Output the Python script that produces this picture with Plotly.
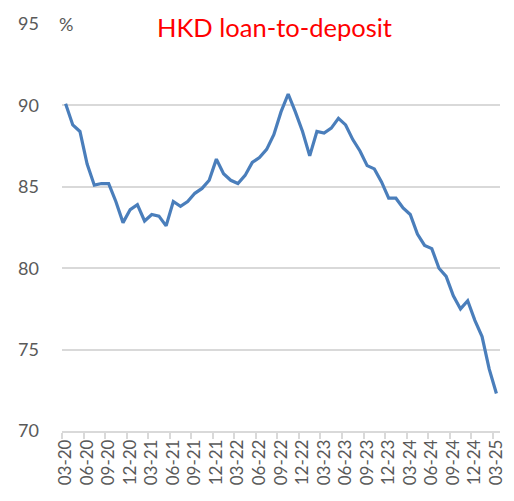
import plotly.graph_objects as go

months = ["03-20","04-20","05-20","06-20","07-20","08-20","09-20","10-20","11-20","12-20",
          "01-21","02-21","03-21","04-21","05-21","06-21","07-21","08-21","09-21","10-21","11-21","12-21",
          "01-22","02-22","03-22","04-22","05-22","06-22","07-22","08-22","09-22","10-22","11-22","12-22",
          "01-23","02-23","03-23","04-23","05-23","06-23","07-23","08-23","09-23","10-23","11-23","12-23",
          "01-24","02-24","03-24","04-24","05-24","06-24","07-24","08-24","09-24","10-24","11-24","12-24",
          "01-25","02-25","03-25"]

ratio = [90.1, 88.8, 88.4, 86.4, 85.1, 85.2, 85.2, 84.1, 82.8, 83.6,
         83.9, 82.9, 83.3, 83.2, 82.6, 84.1, 83.8, 84.1, 84.6, 84.9, 85.4, 86.7,
         85.8, 85.4, 85.2, 85.7, 86.5, 86.8, 87.3, 88.2, 89.6, 90.7, 89.6, 88.4,
         86.9, 88.4, 88.3, 88.6, 89.2, 88.8, 87.9, 87.2, 86.3, 86.1, 85.3, 84.3,
         84.3, 83.7, 83.3, 82.1, 81.4, 81.2, 80.0, 79.5, 78.3, 77.5, 78.0, 76.8,
         75.8, 73.8, 72.3]

y_ticks = [70, 75, 80, 85, 90, 95]
title_text = "HKD loan-to-deposit"
unit_text = "%"

fig = go.Figure()
fig.add_trace(go.Scatter(
    x=months, y=ratio, mode="lines",
    line=dict(color="#4a7ebb", width=3.2),
    hoverinfo="skip", showlegend=False,
))

# page body has an 8px default margin, so the figure is sized/offset to compensate
fig.update_layout(
    width=506, height=493,
    margin=dict(l=54, r=14, t=16, b=70, autoexpand=False),
    paper_bgcolor="white", plot_bgcolor="white",
    font=dict(family="Lato, Open Sans, sans-serif", color="#595959"),
    showlegend=False,
)

fig.update_xaxes(
    type="category",
    range=[-0.5, len(months) - 0.5],
    tickmode="linear", tick0=0, dtick=3,
    tickson="boundaries",
    ticks="outside", ticklen=6, tickcolor="#d9d9d9", tickwidth=1.5,
    showline=True, linecolor="#d9d9d9", linewidth=1.5,
    showgrid=False, zeroline=False,
    tickangle=-90, automargin=False,
    tickfont=dict(size=17, color="#595959"),
)

fig.update_yaxes(
    range=[70, 95],
    tickvals=y_ticks,
    ticktext=[str(v) for v in y_ticks],
    showgrid=True, gridcolor="#d9d9d9", gridwidth=1.5,
    showline=False, zeroline=False, ticks="",
    ticklabelstandoff=22, automargin=False,
    tickfont=dict(size=18, color="#595959"),
)

fig.add_annotation(
    text=unit_text, xref="paper", yref="y", x=0.008, y=95,
    xanchor="center", yanchor="middle", showarrow=False,
    font=dict(size=18, color="#595959"),
)
fig.add_annotation(
    text=title_text, xref="paper", yref="paper", x=0.486, y=0.993,
    xanchor="center", yanchor="middle", showarrow=False,
    font=dict(size=25.5, color="#ff0000"),
)

fig.write_html("out.html")
